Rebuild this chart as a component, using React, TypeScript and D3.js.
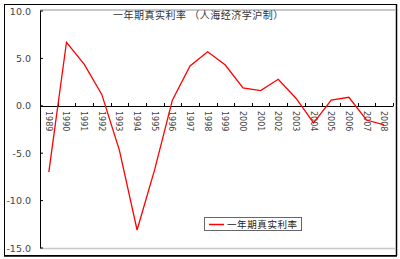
import React from "react";
import * as d3 from "d3";

const years = ["1989","1990","1991","1992","1993","1994","1995","1996","1997","1998","1999","2000","2001","2002","2003","2004","2005","2006","2007","2008"];
const realRate = [-7.0, 6.7, 4.4, 1.2, -4.7, -13.1, -6.7, 0.6, 4.2, 5.7, 4.3, 1.9, 1.6, 2.8, 0.8, -1.8, 0.6, 0.9, -1.5, -2.0];
const yTicks = [10, 5, 0, -5, -10, -15];
const title = "一年期真实利率 （人海经济学沪制）";
const legendLabel = "一年期真实利率";

export default function App() {
  const W = 400, H = 259;
  const left = 40, right = 393, top = 11, bottom = 248;
  const x = d3.scaleBand<string>().domain(years).range([left, right]).padding(0);
  const y = d3.scaleLinear().domain([-15, 10]).range([bottom, top]);
  const line = d3.line<number>()
    .x((_, i) => (x(years[i]) as number) + x.bandwidth() / 2)
    .y((d) => y(d));
  const y0 = y(0);
  const boundaries = d3.range(years.length + 1).map((k) => left + k * x.bandwidth());

  return (
    <svg width={W} height={H} style={{ position: "absolute", left: 0, top: 0, display: "block" }}>
      <rect x={0} y={0} width={W} height={H} fill="#fff" />
      {/* outer frame */}
      <rect x={4.5} y={4.5} width={392} height={251} fill="none" stroke="#000" strokeWidth={1} />
      <line x1={396.5} y1={4} x2={396.5} y2={256} stroke="#000" strokeWidth={1.5} />
      <line x1={4} y1={256} x2={397} y2={256} stroke="#000" strokeWidth={1.5} />
      {/* plot area borders */}
      <line x1={left} y1={10} x2={395} y2={10} stroke="#c8c8c8" strokeWidth={2} />
      <line x1={left} y1={bottom + 0.5} x2={395} y2={bottom + 0.5} stroke="#c8c8c8" strokeWidth={1.5} />
      <line x1={left + 0.5} y1={top} x2={left + 0.5} y2={bottom} stroke="#000" strokeWidth={1} />
      {/* y labels */}
      {yTicks.map((t) => (
        <g key={t}>
          <line x1={left} x2={left + 3} y1={y(t)} y2={y(t)} stroke="#000" strokeWidth={1} />
          <text x={31} y={y(t) + 3.5} textAnchor="end" fontSize={9.5} fontFamily="'DejaVu Sans', sans-serif" fill="#444">
            {t.toFixed(1)}
          </text>
        </g>
      ))}
      {/* zero axis */}
      <line x1={left} x2={right} y1={Math.round(y0) + 0.5} y2={Math.round(y0) + 0.5} stroke="#000" strokeWidth={1} />
      {boundaries.map((bx, i) => (
        <line key={i} x1={Math.round(bx) + 0.5} x2={Math.round(bx) + 0.5} y1={Math.round(y0) - 3} y2={Math.round(y0) + 0.5} stroke="#000" strokeWidth={1} />
      ))}
      {/* x labels */}
      {years.map((yr) => {
        const cx = (x(yr) as number) + x.bandwidth() / 2;
        return (
          <text key={yr} transform={`translate(${cx - 3},${Math.round(y0) + 5}) rotate(90)`} fontSize={8} fontFamily="'DejaVu Sans', sans-serif" fill="#444">
            {yr}
          </text>
        );
      })}
      {/* line */}
      <path d={line(realRate) as string} fill="none" stroke="#ff0000" strokeWidth={1.3} />
      {/* title */}
      <text x={113} y={19} fontSize={10} fontFamily="'Noto Sans CJK SC', sans-serif" fill="#333" letterSpacing={0.5}>
        {title}
      </text>
      {/* legend */}
      <rect x={204.5} y={217.5} width={97} height={13} fill="#fff" stroke="#666" strokeWidth={1} />
      <line x1={209} x2={224} y1={224.5} y2={224.5} stroke="#ff0000" strokeWidth={1.5} />
      <text x={227} y={228} fontSize={9.5} fontFamily="'Noto Sans CJK SC', sans-serif" fill="#222" letterSpacing={0.6}>
        {legendLabel}
      </text>
    </svg>
  );
}
